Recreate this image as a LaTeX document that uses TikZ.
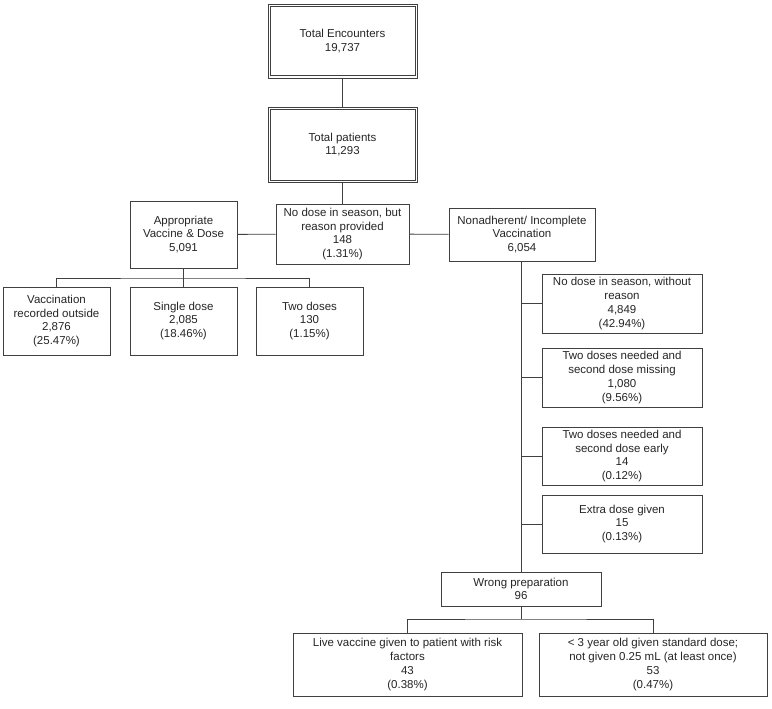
\documentclass[tikz,border=0pt]{standalone}
\usepackage{fontspec}
\setmainfont{Liberation Sans}
\definecolor{linec}{HTML}{404040}
\definecolor{textc}{HTML}{262626}
\begin{document}
\begin{tikzpicture}[x=1pt,y=-1pt,
  box/.style={draw=linec, line width=0.9pt, align=center, inner sep=0pt, text=textc,
    font=\fontsize{11.5}{13.7}\selectfont},
  sz/.style 2 args={minimum width=#1pt, minimum height=#2pt},
  conn/.style={draw=linec, line width=0.9pt},
  inner/.style={draw=linec, line width=0.7pt}]
\useasboundingbox[fill=white] (0,0) rectangle (772,709);
\node[box, sz={149}{74}] (enc) at (342.5,41) {Total Encounters\\19,737};
\node[box, sz={149}{75}] (pat) at (342.5,144.5) {Total patients\\11,293};
\path[inner] ([shift={(2.6,2.6)}]enc.north west) rectangle ([shift={(-2.6,-2.6)}]enc.south east);
\path[inner] ([shift={(2.6,2.6)}]pat.north west) rectangle ([shift={(-2.6,-2.6)}]pat.south east);
\node[box, sz={107}{67}] (app) at (183.5,234.5) {Appropriate\\Vaccine \& Dose\\5,091};
\node[box, sz={133}{60}] (nod) at (342.5,234) {No dose in season, but\\reason provided\\148\\(1.31\%)};
\node[box, sz={146}{53}] (non) at (522,234.5) {Nonadherent/ Incomplete\\Vaccination\\6,054};
\node[box, sz={107}{68}] (vro) at (56.5,321) {Vaccination\\recorded outside\\2,876\\(25.47\%)};
\node[box, sz={107}{68}] (sgl) at (183.5,321) {Single dose\\2,085\\(18.46\%)};
\node[box, sz={107}{68}] (two) at (309.5,321) {Two doses\\130\\(1.15\%)};
\node[box, sz={160}{59}] (r1) at (622,303.5) {No dose in season, without\\reason\\4,849\\(42.94\%)};
\node[box, sz={160}{59}] (r2) at (622,377.5) {Two doses needed and\\second dose missing\\1,080\\(9.56\%)};
\node[box, sz={160}{58}] (r3) at (622,456) {Two doses needed and\\second dose early\\14\\(0.12\%)};
\node[box, sz={160}{58}] (r4) at (622,524) {Extra dose given\\15\\(0.13\%)};
\node[box, sz={160}{34}] (wp) at (521,589) {Wrong preparation\\96};
\node[box, sz={229}{63}] (live) at (407.5,664.5) {Live vaccine given to patient with risk\\factors\\43\\(0.38\%)};
\node[box, sz={228}{63}] (lt3) at (653,664.5) {< 3 year old given standard dose;\\not given 0.25 mL (at least once)\\53\\(0.47\%)};
\path[conn] (enc) -- (pat);
\path[conn] (pat) -- (nod);
\path[conn] (app) -- (nod);
\path[conn] (nod) -- (non);
\path[conn] (app.south) -- (sgl.north);
\coordinate (bus1) at (183.5,278);
\path[conn] (vro.north) |- (bus1) -| (two.north);
\coordinate (trunk) at (non.south -| wp.north);
\path[conn] (trunk) -- (wp.north);
\path[conn] (r1.west) -- (r1.west -| trunk);
\path[conn] (r2.west) -- (r2.west -| trunk);
\path[conn] (r3.west) -- (r3.west -| trunk);
\path[conn] (r4.west) -- (r4.west -| trunk);
\coordinate (bus2) at (521,619);
\path[conn] (wp.south) -- (bus2);
\path[conn] (live.north) |- (bus2) -| (lt3.north);
\end{tikzpicture}
\end{document}
